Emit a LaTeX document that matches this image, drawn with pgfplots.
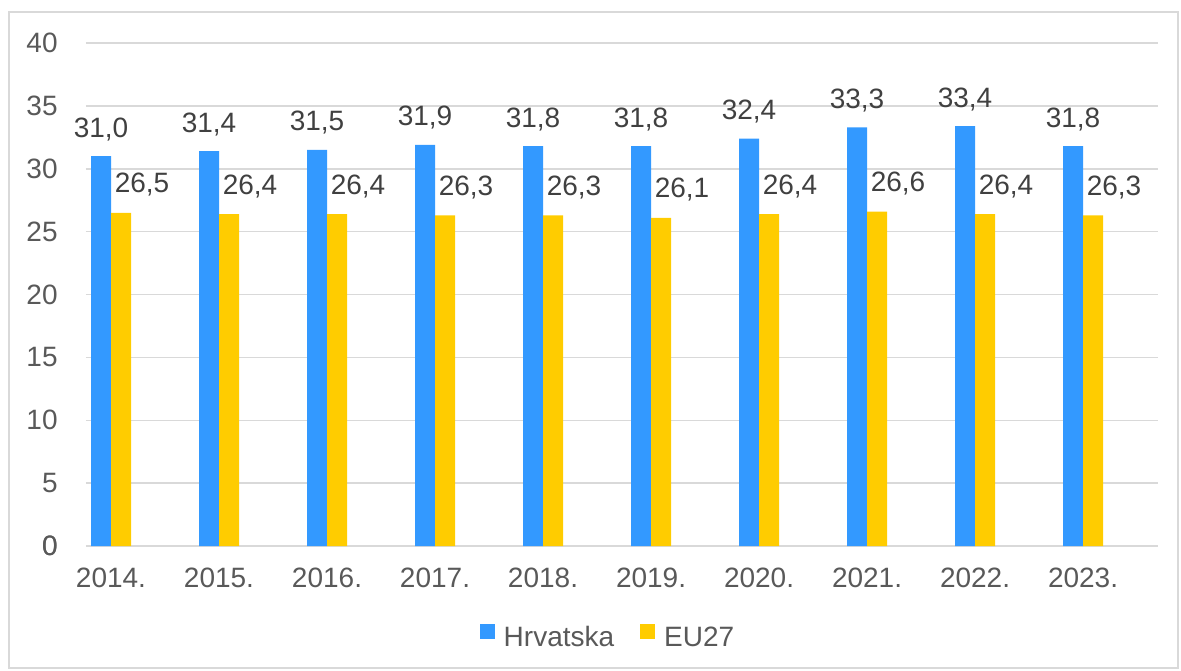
\documentclass[border=0pt]{standalone}
\usepackage{pgfplots}
\pgfplotsset{compat=1.18}
\usepackage{fontspec}
\setmainfont{Liberation Sans}
\definecolor{hr}{HTML}{3399FF}
\definecolor{eu}{HTML}{FFCC00}
\definecolor{gridc}{HTML}{D9D9D9}
\definecolor{txt}{HTML}{595959}
\definecolor{lbl}{HTML}{404040}
\pgfplotstableread{
x hr eu
0 31.0 26.5
1 31.4 26.4
2 31.5 26.4
3 31.9 26.3
4 31.8 26.3
5 31.8 26.1
6 32.4 26.4
7 33.3 26.6
8 33.4 26.4
9 31.8 26.3
}\data
\begin{document}
\begin{tikzpicture}[x=1pt,y=1pt]
\useasboundingbox (-43,-62) rectangle (547.5,273);
\draw[gridc, line width=0.75pt] (-38.5,-61) rectangle (546,267);
\begin{axis}[
  at={(0,0)}, anchor=south west,
  scale only axis, width=536pt, height=251.5pt,
  xmin=-0.2315, xmax=9.694, ymin=0, ymax=40,
  ytick={0,5,...,40},
  xtick={0,...,9},
  xticklabels={2014.,2015.,2016.,2017.,2018.,2019.,2020.,2021.,2022.,2023.},
  ymajorgrids, grid style={gridc, line width=0.75pt},
  extra y ticks={0}, extra y tick style={grid style={gridc,line width=0.75pt}},
  axis line style={draw=none},
  major tick length=0pt,
  ybar, bar width=10pt,
  font=\fontsize{14}{16}\selectfont,
  /pgf/number format/assume math mode=true,
  tick label style={text=txt, font=\fontsize{14}{16}\selectfont},
  xticklabel style={anchor=north, inner sep=0pt, yshift=-11pt},
  yticklabel style={anchor=east, inner sep=0pt, xshift=-14pt},
  nodes near coords={\pgfmathprintnumber[fixed,fixed zerofill,precision=1,use comma,assume math mode=true]{\pgfplotspointmeta}},
  nodes near coords style={anchor=base, inner sep=0pt, text=lbl, font=\fontsize{14}{16}\selectfont},
  legend columns=2,
  legend style={at={(0.486,-0.181)}, anchor=center, draw=none, fill=none,
    font=\fontsize{14}{16}\selectfont, text=txt,
    nodes={inner sep=0pt},
    /tikz/every odd column/.style={column sep=4.5pt},
    /tikz/every even column/.style={column sep=13pt}},
]
\addplot[fill=hr, draw=none, bar shift=-5pt,
  nodes near coords style={yshift=9.5pt},
  legend image code/.code={\fill[hr] (0pt,-0.5pt) rectangle (7.5pt,7pt);}]
  table[x=x, y=hr] {\data};
\addplot[fill=eu, draw=none, bar shift=5pt,
  nodes near coords style={yshift=10pt, xshift=10.5pt},
  legend image code/.code={\fill[eu] (0pt,-0.5pt) rectangle (7.5pt,7pt);}]
  table[x=x, y=eu] {\data};
\legend{Hrvatska, EU27}
\end{axis}
\end{tikzpicture}
\end{document}
